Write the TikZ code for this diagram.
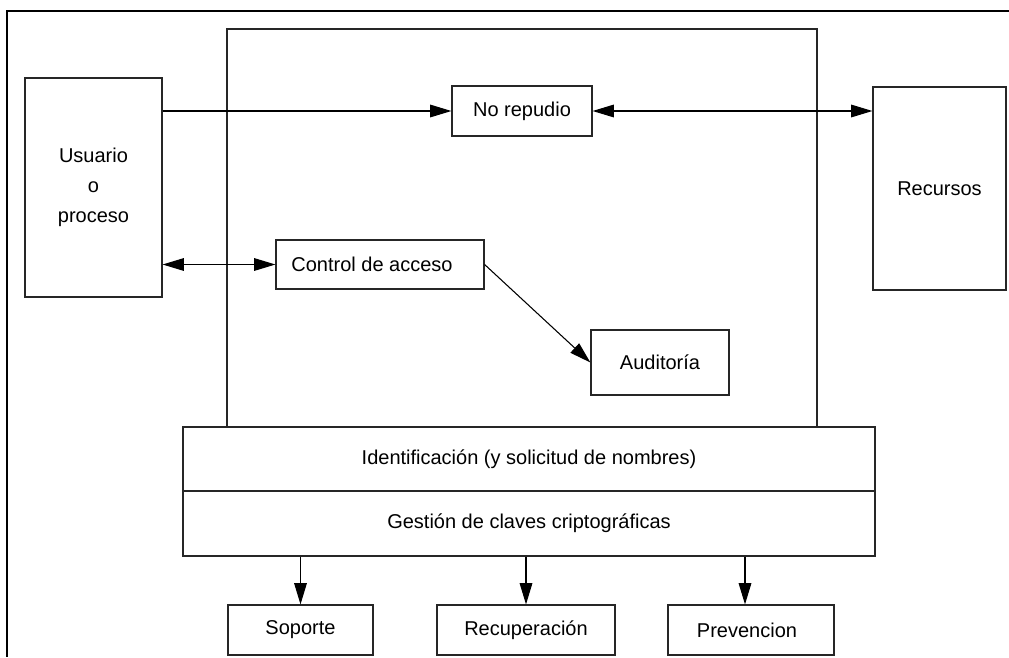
\documentclass[tikz,border=0pt]{standalone}
\usepackage{fontspec}
\setmainfont{Liberation Sans}
\usetikzlibrary{arrows.meta}
\begin{document}
\begin{tikzpicture}[x=0.75pt,y=-0.75pt,
  box/.style={draw=black!85,line width=0.9pt,inner sep=0pt,align=center,
    font=\fontsize{15pt}{18pt}\selectfont},
  conn/.style={draw=black,line width=0.8pt},
  tip/.style={-{Triangle[length=16pt,width=9.5pt]}},
  tips/.style={{Triangle[length=16pt,width=9.5pt]}-{Triangle[length=16pt,width=9.5pt]}}]
\useasboundingbox (0,0) rectangle (1009,657);
% page frame
\draw[line width=1.6pt] (1009,11) -- (7,11) -- (7,657);
% central system block
\draw[draw=black!85,line width=0.9pt] (227,29) rectangle (817,427);
% side boxes
\node[box,minimum width=102.75pt,minimum height=164.25pt,
  font=\fontsize{15pt}{22.5pt}\selectfont] (usuario) at (93.5,187.5) {Usuario\\o\\proceso};
\node[box,minimum width=99.75pt,minimum height=152.25pt] (recursos) at (939.5,188.5) {Recursos};
% inner services
\node[box,minimum width=105pt,minimum height=37.5pt] (norepudio) at (522,111) {No repudio};
\node[box,minimum width=156pt,minimum height=36.75pt] (control) at (380,264.5) {Control de acceso\hspace{12pt}};
\node[box,minimum width=103.5pt,minimum height=48.75pt] (auditoria) at (660,362.5) {Auditoría};
% base layers
\node[box,minimum width=519pt,minimum height=48pt] (ident) at (529,459) {Identificación (y solicitud de nombres)};
\node[box,minimum width=519pt,minimum height=48.75pt] (gestion) at (529,523.5) {Gestión de claves criptográficas};
% lower boxes
\node[box,minimum width=108.75pt,minimum height=37.5pt] (soporte) at (300.5,630) {Soporte};
\node[box,minimum width=133.5pt,minimum height=37.5pt] (recup) at (526,630) {Recuperación};
\node[box,minimum width=124.5pt,minimum height=37.5pt] (prev) at (751,630) {Prevencion\hspace{6pt}};
% connectors
\draw[conn,tip] (usuario.east |- norepudio.west) -- (norepudio.west);
\draw[conn,tips] (norepudio.east) -- (norepudio.east -| recursos.west);
\draw[conn,tips] (usuario.east |- control.west) -- (control.west);
\draw[conn,tip] (control.east) -- (auditoria.west);
\draw[conn,tip] (gestion.south -| soporte.north) -- (soporte.north);
\draw[conn,tip] (gestion.south -| recup.north) -- (recup.north);
\draw[conn,tip] ([xshift=-4.5pt]gestion.south -| prev.north) -- ([xshift=-4.5pt]prev.north);
\end{tikzpicture}
\end{document}
